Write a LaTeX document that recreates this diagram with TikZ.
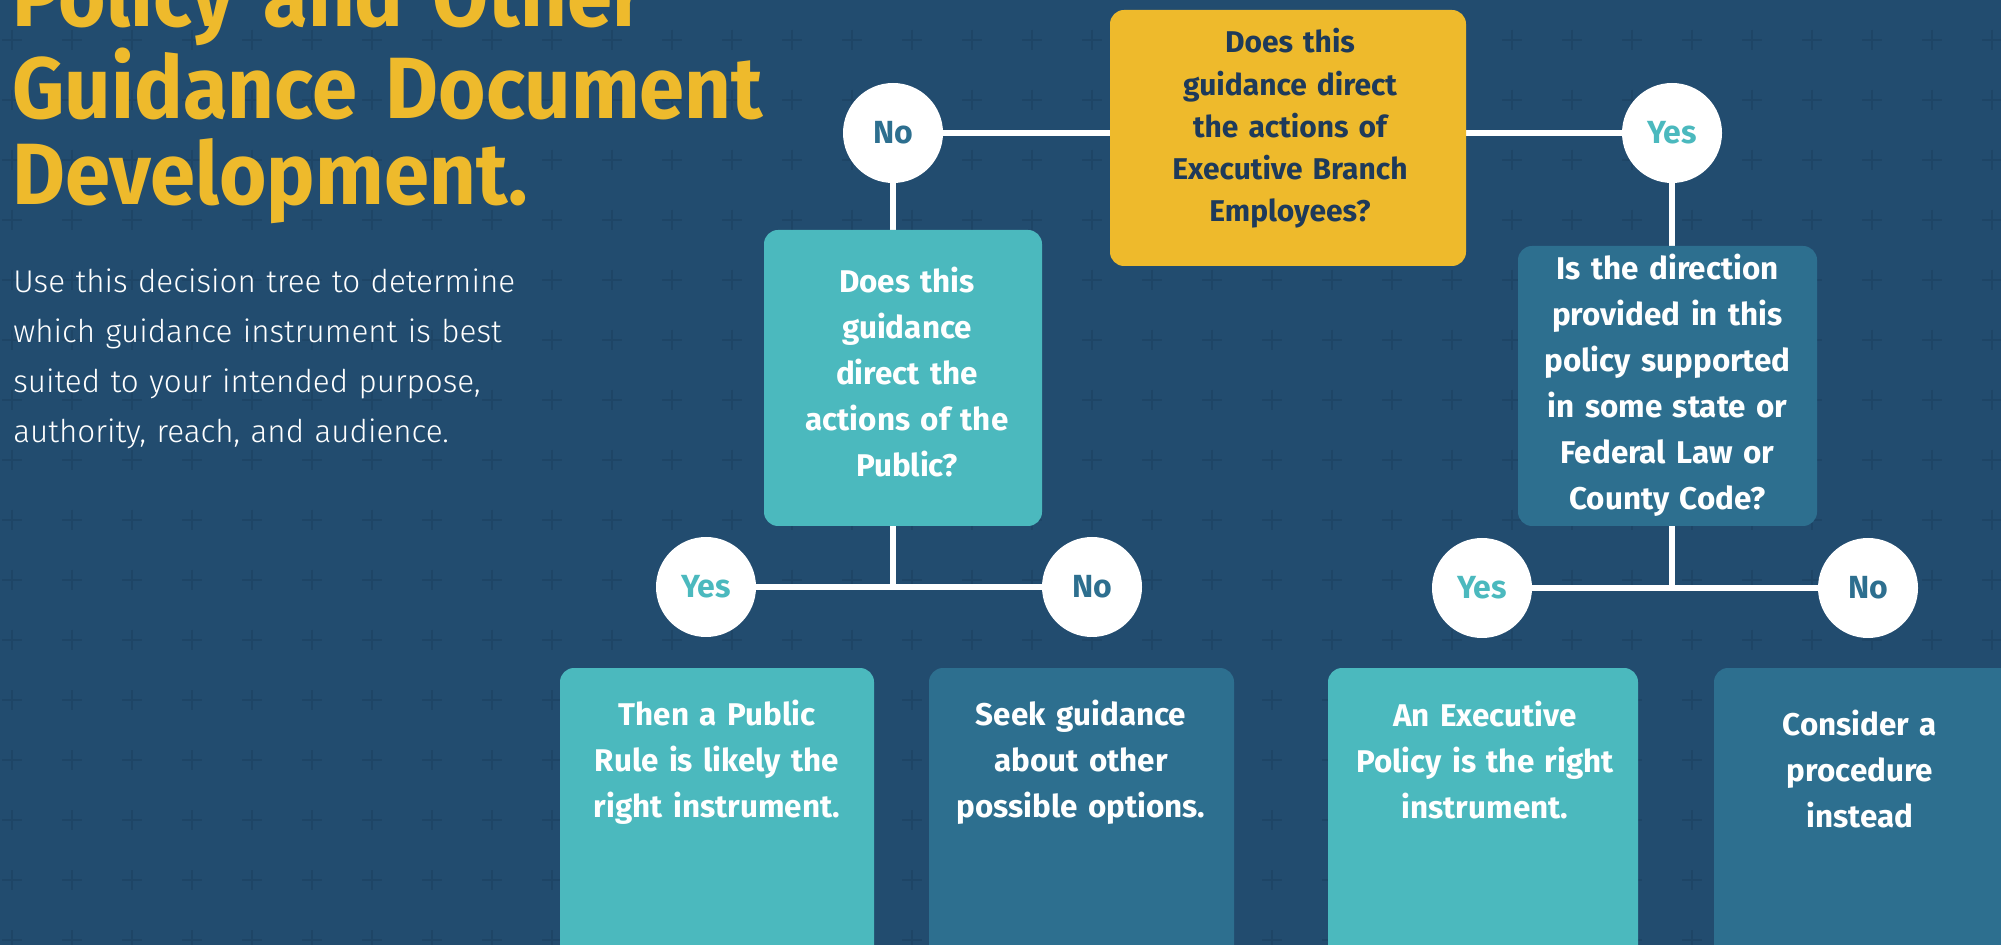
\documentclass[tikz,border=0pt]{standalone}
\usepackage{fontspec}
\setmainfont{Fira Sans}
\newfontfamily\lightfont{Fira Sans Light}
\newfontfamily\titlefont{Fira Sans}[FakeStretch=0.935]
\usetikzlibrary{backgrounds}

\definecolor{navy}{HTML}{224C6F}
\definecolor{crossc}{HTML}{1E4566}
\definecolor{gold}{HTML}{EEBA2C}
\definecolor{teal}{HTML}{4BB9BE}
\definecolor{midblue}{HTML}{2D6F8F}
\definecolor{ink}{HTML}{1E3A5A}

\tikzset{
	qbox/.style={rounded corners=7pt,inner sep=0pt},
	qtext/.style={text width=170pt,align=center,inner sep=0pt,anchor=base,text=white,font=\bfseries\fontsize{15.7}{23}\selectfont},
	answer/.style={circle,fill=white,minimum size=50pt,inner sep=0pt,font=\bfseries\fontsize{16}{16}\selectfont},
	link/.style={draw=white,line width=3.1pt}
}

\begin{document}
\begin{tikzpicture}[x=0.5pt,y=-0.5pt]
			\useasboundingbox (0,0) rectangle (2001,945);
			\begin{scope}[on background layer]
			\fill[navy] (0,0) rectangle (2001,945);
			\foreach \i in {0,...,33}
			\foreach \j in {0,...,15}
			\draw[crossc,line width=1.2pt] (2+60*\i,40+60*\j) -- ++(20,0) (12+60*\i,30+60*\j) -- ++(0,20);
			\end{scope}
			% title and intro
			\node[anchor=base west,inner sep=0pt,text width=500pt,align=left,text=gold,font=\titlefont\bfseries\fontsize{43.5}{42.75}\selectfont] (title) at (12,27) {Policy and Other\\Guidance Document\\Development.};
			\node[anchor=base west,inner sep=0pt,text width=300pt,align=left,text=white,font=\lightfont\fontsize{15.7}{25}\selectfont] (intro) at (13,293) {Use this decision tree to determine\\which guidance instrument is best\\suited to your intended purpose,\\authority, reach, and audience.};
			% question boxes
			\node[qbox,fill=gold,minimum width=178pt,minimum height=128pt] (empQ) at (1288,138) {};
			\node[qtext,text=ink,font=\bfseries\fontsize{15}{21.1}\selectfont] (empQtext) at (1290,53) {Does this\\guidance direct\\the actions of\\Executive Branch\\Employees?};
			\node[qbox,fill=teal,minimum width=139pt,minimum height=148pt] (pubQ) at (903,378) {};
			\node[qtext] (pubQtext) at (907,293) {Does this\\guidance\\direct the\\actions of the\\Public?};
			\node[qbox,fill=midblue,minimum width=149.5pt,minimum height=140pt] (lawQ) at (1667.5,386) {};
			\node[qtext] (lawQtext) at (1667.5,280) {Is the direction\\provided in this\\policy supported\\in some state or\\Federal Law or\\County Code?};
			% answers
			\node[answer,text=midblue] (noTop) at (893,133) {No};
			\node[answer,text=teal] (yesTop) at (1672,133) {Yes};
			\node[answer,text=teal] (yesPub) at (706,587) {Yes};
			\node[answer,text=midblue] (noPub) at (1092,587) {No};
			\node[answer,text=teal] (yesLaw) at (1482,588) {Yes};
			\node[answer,text=midblue] (noLaw) at (1868,588) {No};
			% outcome boxes
			\node[qbox,fill=teal,minimum width=157pt,minimum height=166pt] (ruleBox) at (717,834) {};
			\node[qtext] (ruleText) at (717,725) {Then a Public\\Rule is likely the\\right instrument.};
			\node[qbox,fill=midblue,minimum width=152.5pt,minimum height=166pt] (seekBox) at (1081.5,834) {};
			\node[qtext] (seekText) at (1081,725) {Seek guidance\\about other\\possible options.};
			\node[qbox,fill=teal,minimum width=155pt,minimum height=166pt] (policyBox) at (1483,834) {};
			\node[qtext] (policyText) at (1485,726) {An Executive\\Policy is the right\\instrument.};
			\node[qbox,fill=midblue,minimum width=150pt,minimum height=166pt] (procBox) at (1864,834) {};
			\node[qtext] (procText) at (1860,735) {Consider a\\procedure\\instead};
			% connectors
			\begin{scope}[on background layer]
			\draw[link] (noTop) -- (yesTop);
			\draw[link] (noTop) -- (noTop |- pubQ.north);
			\draw[link] (pubQ.south -| noTop) -- (noTop |- yesPub);
			\draw[link] (yesPub) -- (noPub);
			\draw[link] (yesTop) -- (yesTop |- lawQ.north);
			\draw[link] (lawQ.south -| yesTop) -- (yesTop |- yesLaw);
			\draw[link] (yesLaw) -- (noLaw);
			\end{scope}
\end{tikzpicture}
\end{document}
